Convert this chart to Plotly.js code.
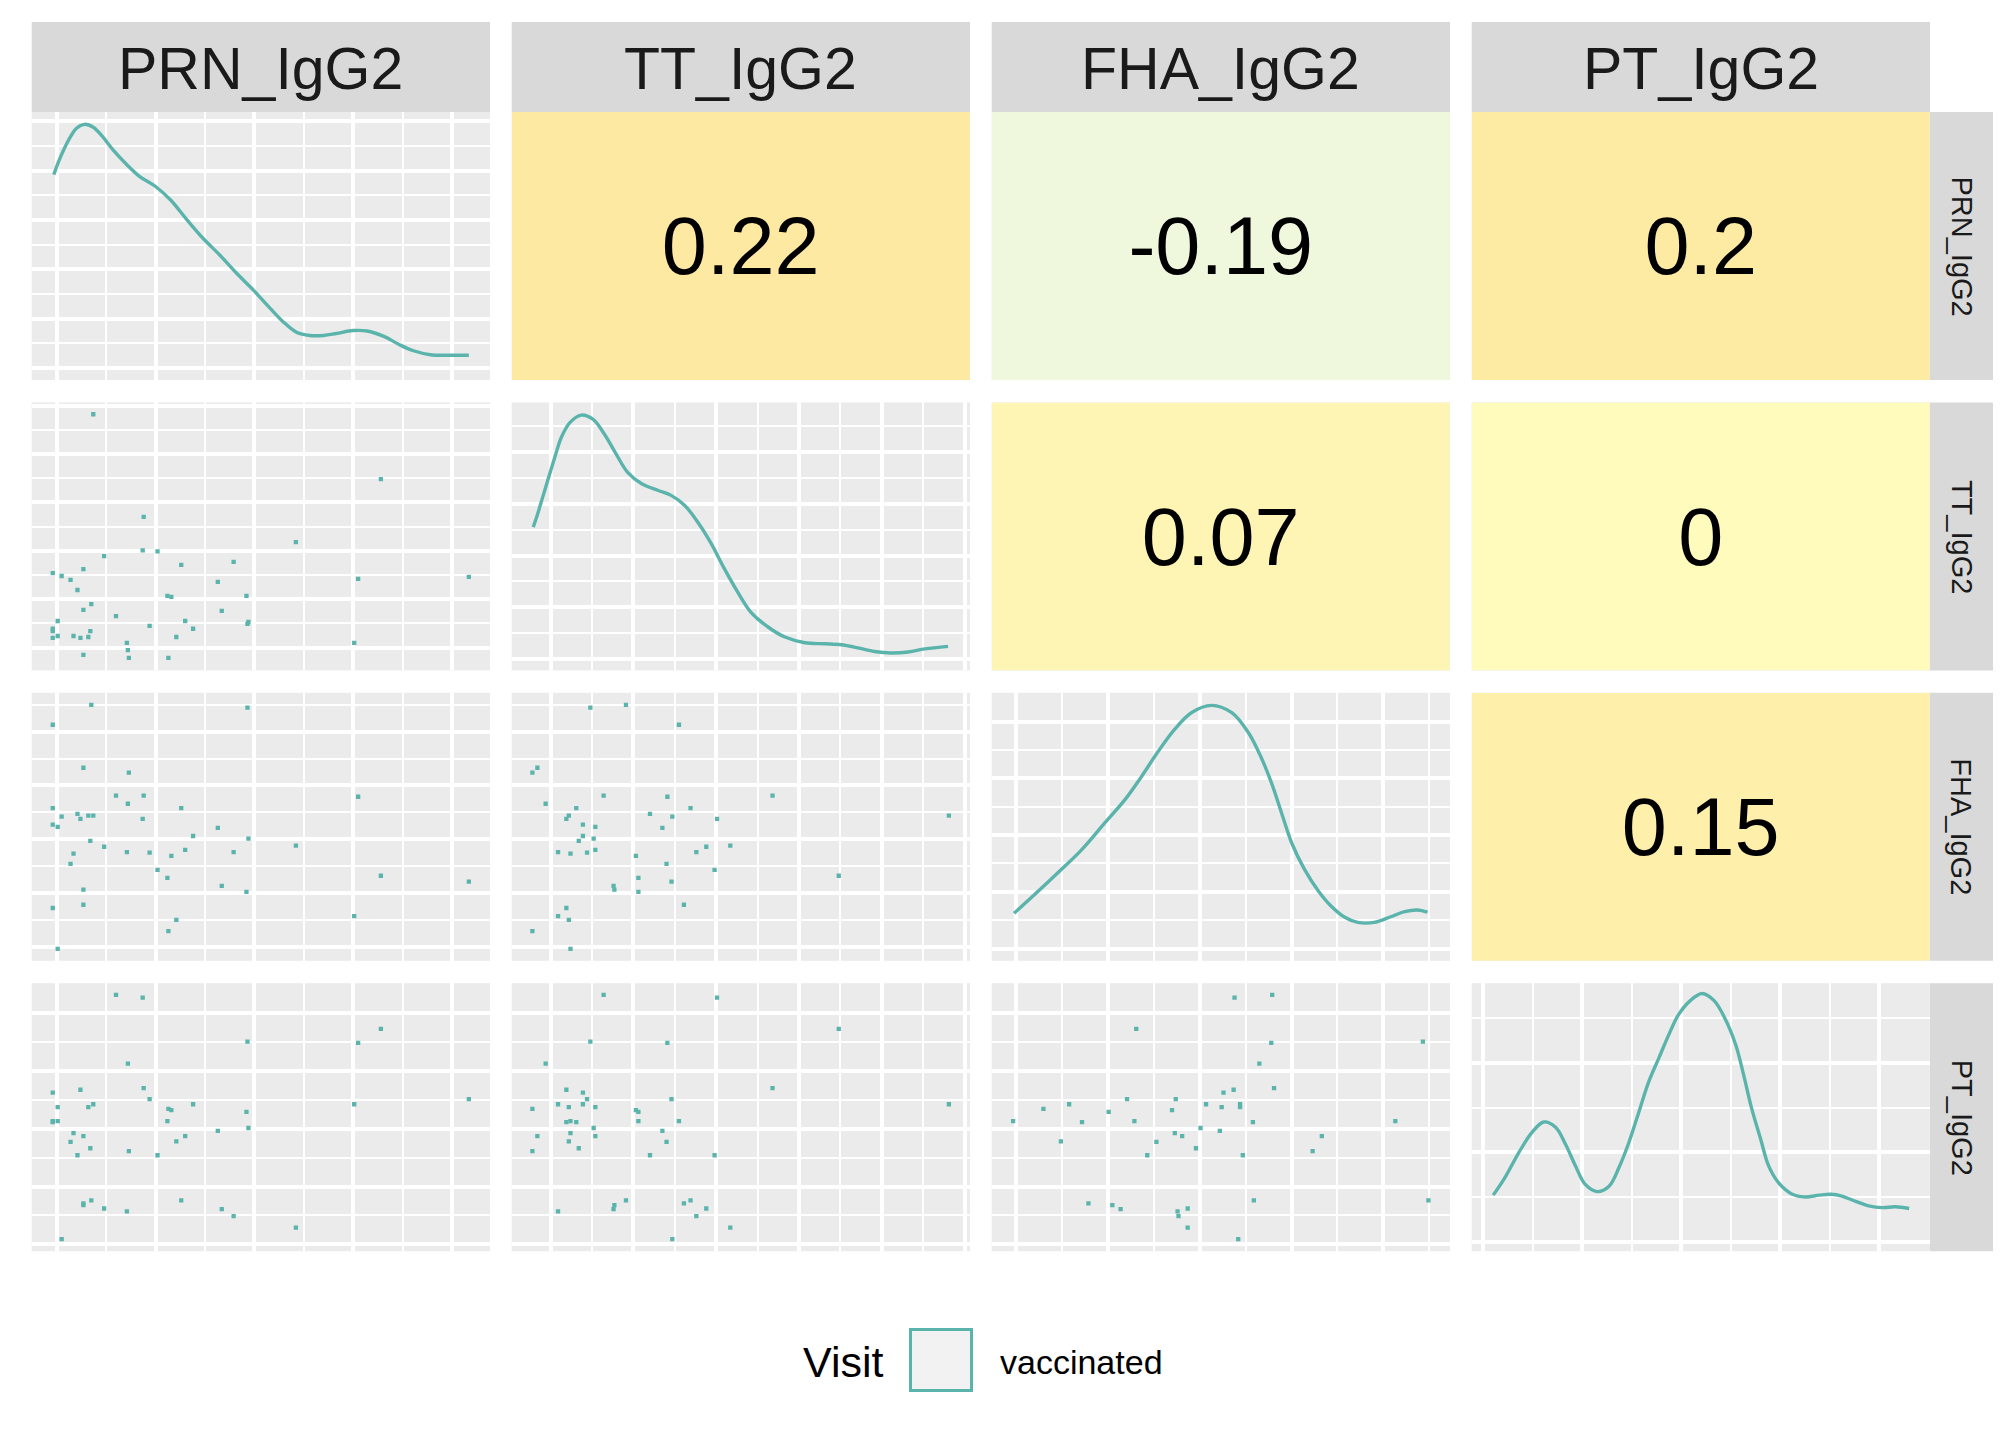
<!DOCTYPE html>
<html>
<head>
<meta charset="utf-8">
<script src="https://cdn.plot.ly/plotly-3.0.1.min.js"></script>
<style>
  html, body { margin: 0; padding: 0; background: #ffffff; }
  #pairs { width: 2016px; height: 1440px; }
</style>
</head>
<body>
<div id="pairs"></div>
<script>
// variables, in the order of the grid (rows top->bottom, columns left->right)
const varNames = ["PRN_IgG2", "TT_IgG2", "FHA_IgG2", "PT_IgG2"];
const legendTitle = "Visit";
const legendLabel = "vaccinated";

// correlations shown in the upper triangle
const corrRow = [0, 0, 0, 1, 1, 2];
const corrCol = [1, 2, 3, 2, 3, 3];
const corrValue = [0.22, -0.19, 0.2, 0.07, 0, 0.15];

// scatter panels (arbitrary units)
const r2c1_prn = [0.37,3.28,0.88,2.42,0.87,1.02,0.48,1.79,1.26,0.27,-0.04,0.05,0.14,1.63,3.05,4.17,0.21,1.12,1.16,1.92,0.35,0.27,1.67,0.60,0.01,1.30,1.94,1.93,0.94,1.38,-0.04,-0.04,0.34,0.01,0.17,0.24,0.32,-0.04,1.21,3.01,0.71,0.72,0.27,0.73,1.13];
const r2c1_tt  = [4.82,3.48,2.70,2.18,2.01,1.99,1.89,1.77,1.71,1.62,1.54,1.48,1.40,1.36,1.42,1.46,1.19,1.07,1.05,1.07,0.90,0.78,0.76,0.65,0.55,0.55,0.53,0.49,0.45,0.39,0.39,0.34,0.34,0.24,0.24,0.20,0.22,0.20,0.22,0.10,0.10,-0.05,-0.15,-0.21,-0.21];

const r3c1_prn = [0.35,1.93,-0.04,0.27,0.73,0.60,0.88,3.05,0.72,-0.04,1.26,0.21,0.05,0.24,0.32,0.37,0.87,-0.04,0.01,1.63,1.38,1.94,0.34,0.48,2.42,0.17,0.71,0.94,1.16,1.30,1.79,0.14,1.02,1.12,3.28,4.17,1.67,1.92,0.27,0.27,-0.04,3.01,1.21,1.13,0.01];
const r3c1_fha = [4.50,4.45,4.13,3.33,3.24,2.81,2.81,2.79,2.66,2.58,2.58,2.47,2.42,2.38,2.44,2.44,2.38,2.27,2.23,2.21,2.06,2.01,1.97,1.86,1.88,1.73,1.76,1.75,1.69,1.80,1.76,1.54,1.43,1.28,1.32,1.21,1.13,1.02,1.06,0.78,0.72,0.57,0.50,0.29,-0.04];

const r3c2_tt  = [0.91,0.48,1.55,-0.16,-0.22,0.64,1.41,2.68,-0.06,0.31,1.69,1.20,0.22,0.19,1.47,2.01,4.81,0.39,0.54,1.35,0.39,0.52,0.34,2.17,1.88,0.09,0.24,0.44,0.54,1.76,1.03,1.40,1.98,1.06,1.46,3.48,0.76,0.77,1.06,1.61,0.19,0.09,0.22,-0.22,0.24];
const r3c2_fha = [4.50,4.45,4.13,3.33,3.24,2.81,2.79,2.81,2.66,2.58,2.58,2.47,2.44,2.38,2.42,2.38,2.44,2.27,2.23,2.21,2.06,2.01,1.97,1.88,1.86,1.76,1.73,1.75,1.80,1.76,1.69,1.54,1.43,1.28,1.21,1.32,1.13,1.06,1.02,0.78,0.72,0.57,0.50,0.29,-0.04];

const r4c1_prn = [0.60,0.87,3.28,1.93,3.05,0.72,0.88,0.24,-0.04,0.94,4.17,0.01,0.32,0.37,1.38,3.01,1.13,1.16,1.92,-0.04,-0.04,0.01,1.12,1.94,1.63,0.17,0.27,1.30,0.14,1.21,0.34,0.73,0.21,1.02,0.27,0.27,0.35,0.48,0.71,1.26,1.67,1.79,2.42,0.05];
const r4c1_pt  = [4.31,4.26,3.72,3.50,3.48,3.12,2.70,2.67,2.62,2.51,2.51,2.37,2.37,2.42,2.42,2.42,2.34,2.32,2.29,2.13,2.11,2.13,2.13,2.01,1.96,1.92,1.87,1.87,1.77,1.78,1.66,1.61,1.54,1.54,0.71,0.68,0.76,0.62,0.57,0.76,0.61,0.49,0.29,0.09];

const r4c2_tt  = [0.64,2.01,3.48,0.48,1.41,-0.06,2.68,0.19,0.39,0.44,1.46,0.09,0.39,4.81,0.22,0.54,-0.22,1.03,1.06,0.19,0.24,0.31,1.06,1.55,0.52,1.35,-0.16,0.24,0.54,0.22,1.40,-0.22,0.34,1.20,1.98,0.91,0.77,0.76,0.09,1.61,1.69,1.88,1.76,2.17,1.47];
const r4c2_pt  = [4.31,4.26,3.72,3.50,3.48,3.12,2.70,2.67,2.62,2.51,2.51,2.42,2.42,2.42,2.37,2.37,2.34,2.32,2.29,2.11,2.13,2.11,2.13,2.13,2.01,1.96,1.87,1.92,1.87,1.78,1.77,1.61,1.66,1.54,1.54,0.76,0.68,0.61,0.57,0.71,0.76,0.62,0.49,0.29,0.09];

const r4c3_fha = [2.38,2.79,1.31,2.78,4.43,2.65,2.81,2.26,2.37,1.21,1.74,0.30,0.58,2.07,2.24,2.44,2.44,1.01,1.70,-0.03,0.72,1.29,2.58,4.13,2.01,1.73,1.81,2.22,0.49,1.53,3.33,1.96,3.23,1.43,2.47,0.79,1.05,1.14,1.76,1.87,1.77,2.59,4.49,1.87,2.42];
const r4c3_pt  = [4.26,4.31,3.72,3.48,3.50,3.12,2.70,2.62,2.67,2.51,2.51,2.34,2.42,2.42,2.37,2.42,2.37,2.29,2.32,2.13,2.11,2.13,2.11,2.13,2.01,1.92,1.87,1.96,1.78,1.77,1.87,1.66,1.61,1.54,1.54,0.71,0.68,0.61,0.57,0.62,0.49,0.76,0.76,0.29,0.09];

// density curves on the diagonal
const prnDensX = [-0.03,0.02,0.07,0.14,0.20,0.28,0.37,0.46,0.57,0.71,0.84,1.00,1.15,1.32,1.48,1.65,1.82,1.99,2.16,2.29,2.43,2.56,2.70,2.83,3.00,3.14,3.31,3.47,3.61,3.78,3.98,4.17];
const prnDensY = [3.92,4.19,4.42,4.69,4.86,4.94,4.88,4.70,4.42,4.12,3.88,3.68,3.41,3.00,2.63,2.29,1.92,1.58,1.21,0.94,0.72,0.66,0.66,0.70,0.76,0.75,0.64,0.47,0.35,0.27,0.26,0.26];
const ttDensX  = [-0.21,-0.15,-0.09,-0.03,0.05,0.13,0.23,0.37,0.51,0.65,0.79,0.93,1.10,1.30,1.46,1.62,1.78,1.94,2.10,2.26,2.42,2.63,2.83,3.07,3.31,3.51,3.71,3.91,4.11,4.32,4.52,4.80];
const ttDensY  = [2.55,2.84,3.16,3.48,3.90,4.29,4.57,4.72,4.64,4.35,3.97,3.61,3.39,3.26,3.16,2.97,2.64,2.23,1.74,1.29,0.90,0.61,0.42,0.31,0.29,0.27,0.21,0.14,0.11,0.13,0.19,0.24];
const fhaDensX = [-0.02,0.21,0.46,0.72,0.97,1.19,1.37,1.55,1.73,1.91,2.13,2.35,2.53,2.67,2.78,2.89,3.00,3.14,3.29,3.43,3.58,3.72,3.90,4.08,4.23,4.37,4.48];
const fhaDensY = [0.62,0.96,1.34,1.75,2.22,2.63,3.04,3.48,3.87,4.16,4.29,4.16,3.81,3.37,2.93,2.40,1.87,1.40,1.02,0.75,0.55,0.46,0.46,0.56,0.65,0.68,0.64];
const ptDensX  = [0.10,0.22,0.36,0.49,0.61,0.73,0.83,0.93,1.03,1.15,1.27,1.37,1.47,1.57,1.67,1.77,1.87,1.97,2.09,2.21,2.33,2.44,2.55,2.63,2.71,2.80,2.88,2.98,3.12,3.25,3.39,3.51,3.62,3.76,3.89,4.03,4.16,4.30];
const ptDensY  = [0.52,0.72,1.00,1.22,1.34,1.28,1.09,0.85,0.64,0.56,0.62,0.83,1.11,1.45,1.79,2.05,2.31,2.54,2.70,2.78,2.70,2.50,2.20,1.86,1.49,1.15,0.85,0.66,0.53,0.50,0.52,0.53,0.51,0.45,0.40,0.38,0.39,0.37];

// ---- styling / geometry ----
const W = 2016, H = 1440;
const TEAL = "#5AB4AC";
const FONT = "Liberation Sans, Arial, sans-serif";
const colLeft = [31.7, 511.7, 991.7, 1471.7], panelW = 458.3;
const rowTop = [112, 402.4, 692.8, 983.2], panelH = 268;
const stripTop = 22, stripRight = 1993;

// axis ranges per variable and for each density panel
const varRange = [[-0.253, 4.384], [-0.47, 5.065], [-0.263, 4.725], [-0.117, 4.51]];
const densRange = [[-0.243, 5.19], [-0.226, 4.966], [-0.217, 4.511], [-0.108, 2.895]];

const scatterData = {
  "1,0": [r2c1_prn, r2c1_tt],
  "2,0": [r3c1_prn, r3c1_fha],
  "2,1": [r3c2_tt, r3c2_fha],
  "3,0": [r4c1_prn, r4c1_pt],
  "3,1": [r4c2_tt, r4c2_pt],
  "3,2": [r4c3_fha, r4c3_pt]
};
const densData = [[prnDensX, prnDensY], [ttDensX, ttDensY], [fhaDensX, fhaDensY], [ptDensX, ptDensY]];

function px2x(p) { return p / W; }
function px2y(p) { return 1 - p / H; }

function gridAxis(domain, range, anchor) {
  return {
    domain: domain, range: range, anchor: anchor,
    showticklabels: false, ticks: "", zeroline: false, showline: false,
    tick0: 0, dtick: 1, showgrid: true, gridcolor: "#ffffff", gridwidth: 4,
    minor: { tick0: 0, dtick: 0.5, showgrid: true, gridcolor: "#ffffff", gridwidth: 2 },
    fixedrange: true
  };
}

function blankAxis(domain, anchor) {
  return {
    domain: domain, range: [-0.5, 0.5], anchor: anchor,
    showticklabels: false, ticks: "", zeroline: false, showline: false,
    showgrid: false, fixedrange: true
  };
}

// correlation fill: light green for negative, light yellow at zero, amber for positive
const corrScale = [[0, "rgb(238,247,222)"], [0.476, "rgb(255,251,189)"], [1, "rgb(253,233,161)"]];

let traces = [];
let layout = {
  width: W, height: H,
  margin: { l: 0, r: 0, t: 0, b: 0 },
  paper_bgcolor: "#ffffff",
  plot_bgcolor: "#EBEBEB",
  showlegend: false,
  font: { family: FONT, color: "#1A1A1A" },
  shapes: [],
  annotations: []
};

for (let r = 0; r < 4; r++) {
  for (let c = 0; c < 4; c++) {
    let k = r * 4 + c + 1;
    let id = k === 1 ? "" : String(k);
    let xd = [px2x(colLeft[c]), px2x(colLeft[c] + panelW)];
    let yd = [px2y(rowTop[r] + panelH), px2y(rowTop[r])];

    if (r < c) {
      layout["xaxis" + id] = blankAxis(xd, "y" + id);
      layout["yaxis" + id] = blankAxis(yd, "x" + id);
      let i = corrRow.findIndex((rr, j) => rr === r && corrCol[j] === c);
      traces.push({
        type: "heatmap", z: [[corrValue[i]]], x: [0], y: [0],
        text: [[String(corrValue[i])]], texttemplate: "%{text}",
        textfont: { family: FONT, size: 81, color: "#000000" },
        colorscale: corrScale, zmin: -0.2, zmax: 0.22, showscale: false,
        xaxis: "x" + id, yaxis: "y" + id, hoverinfo: "skip"
      });
    } else if (r === c) {
      layout["xaxis" + id] = gridAxis(xd, varRange[c], "y" + id);
      layout["yaxis" + id] = gridAxis(yd, densRange[c], "x" + id);
      traces.push({
        type: "scatter", mode: "lines", x: densData[c][0], y: densData[c][1],
        line: { color: TEAL, width: 3.4, shape: "spline", smoothing: 1 },
        xaxis: "x" + id, yaxis: "y" + id, hoverinfo: "skip"
      });
    } else {
      layout["xaxis" + id] = gridAxis(xd, varRange[c], "y" + id);
      layout["yaxis" + id] = gridAxis(yd, varRange[r], "x" + id);
      let d = scatterData[r + "," + c];
      traces.push({
        type: "scatter", mode: "markers", x: d[0], y: d[1],
        marker: { symbol: "square", size: 4.3, color: TEAL, line: { width: 0 } },
        xaxis: "x" + id, yaxis: "y" + id, hoverinfo: "skip"
      });
    }
  }
}

// facet strips: top (column names) and right (row names)
for (let c = 0; c < 4; c++) {
  layout.shapes.push({
    type: "rect", xref: "paper", yref: "paper", layer: "below",
    x0: px2x(colLeft[c]), x1: px2x(colLeft[c] + panelW),
    y0: px2y(rowTop[0]), y1: px2y(stripTop),
    fillcolor: "#D9D9D9", line: { width: 0 }
  });
  layout.annotations.push({
    xref: "paper", yref: "paper",
    x: px2x(colLeft[c] + panelW / 2), y: px2y((stripTop + rowTop[0]) / 2 + 2),
    text: varNames[c], showarrow: false, xanchor: "center", yanchor: "middle",
    font: { family: FONT, size: 59, color: "#1A1A1A" }
  });
}
for (let r = 0; r < 4; r++) {
  let x0 = colLeft[3] + panelW;
  layout.shapes.push({
    type: "rect", xref: "paper", yref: "paper", layer: "below",
    x0: px2x(x0), x1: px2x(stripRight),
    y0: px2y(rowTop[r] + panelH), y1: px2y(rowTop[r]),
    fillcolor: "#D9D9D9", line: { width: 0 }
  });
  layout.annotations.push({
    xref: "paper", yref: "paper",
    x: px2x((x0 + stripRight) / 2), y: px2y(rowTop[r] + panelH / 2),
    text: varNames[r], showarrow: false, textangle: 90,
    xanchor: "center", yanchor: "middle",
    font: { family: FONT, size: 29, color: "#1A1A1A" }
  });
}

// legend at the bottom
layout.shapes.push({
  type: "rect", xref: "paper", yref: "paper",
  x0: px2x(910.5), x1: px2x(971.5), y0: px2y(1390.5), y1: px2y(1329.5),
  fillcolor: "#F2F2F2", line: { color: TEAL, width: 3 }
});
layout.annotations.push({
  xref: "paper", yref: "paper", x: px2x(843), y: px2y(1362),
  text: legendTitle, showarrow: false, xanchor: "center", yanchor: "middle",
  font: { family: FONT, size: 43, color: "#000000" }
});
layout.annotations.push({
  xref: "paper", yref: "paper", x: px2x(998), y: px2y(1362),
  text: legendLabel, showarrow: false, xanchor: "left", yanchor: "middle",
  font: { family: FONT, size: 34, color: "#000000" }
});

Plotly.newPlot("pairs", traces, layout, { displayModeBar: false, staticPlot: true });
</script>
</body>
</html>
